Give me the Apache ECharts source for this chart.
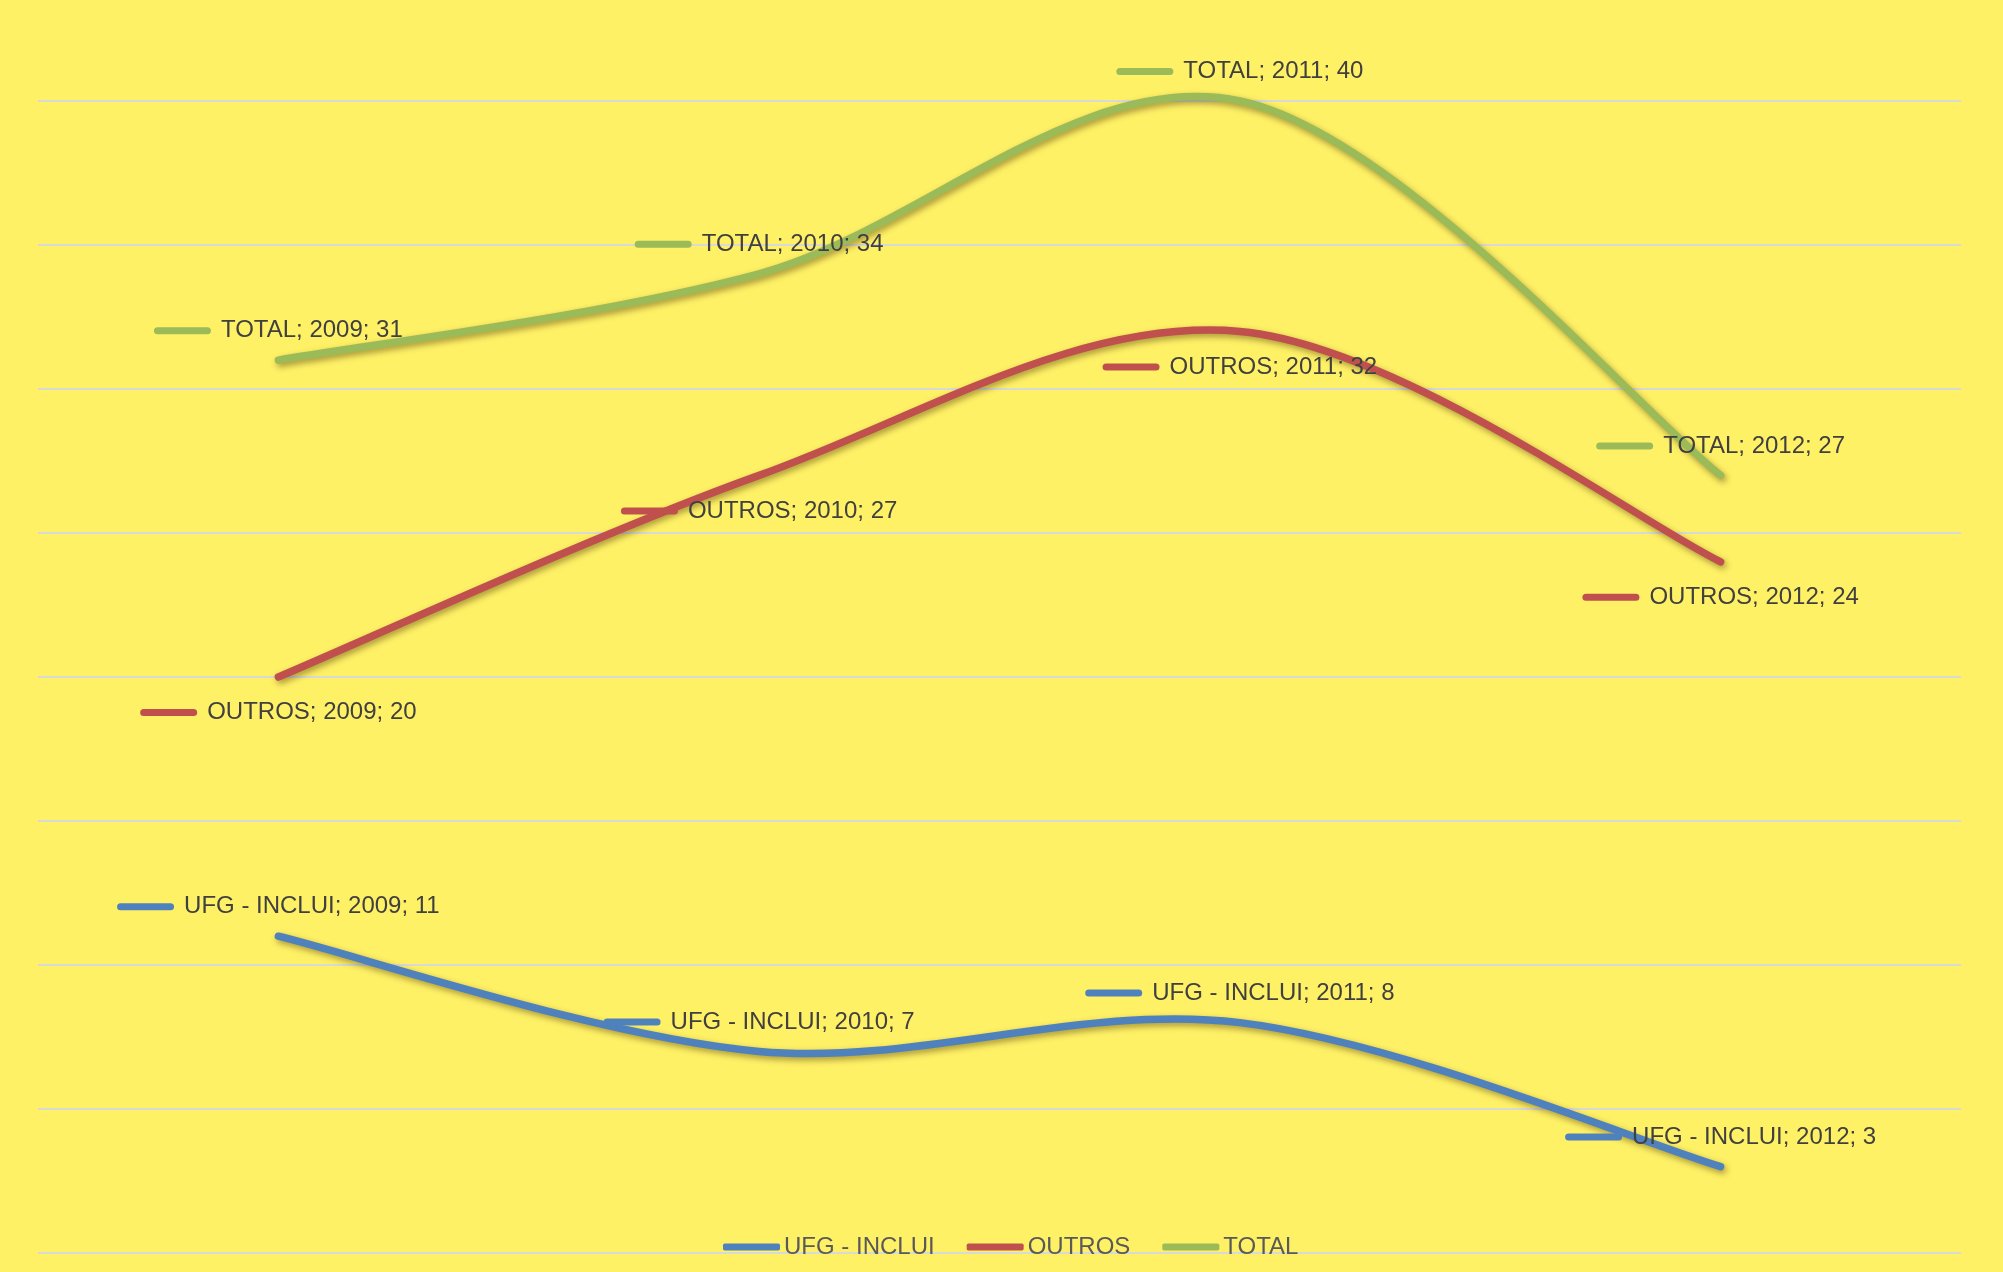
<!DOCTYPE html>
<html><head><meta charset="utf-8">
<script src="https://cdn.jsdelivr.net/npm/echarts@6/dist/echarts.min.js"></script>
<style>html,body{margin:0;padding:0;background:#FFF166;}#c{width:2003px;height:1272px;}</style>
</head><body><div id="c"></div>
<script>
const categories = ['2009', '2010', '2011', '2012'];
const seriesNames = ['UFG - INCLUI', 'OUTROS', 'TOTAL'];
const ufgValues = [11, 7, 8, 3];
const outrosValues = [20, 27, 32, 24];
const totalValues = [31, 34, 40, 27];
const colors = ['#4F81BD', '#C0504D', '#9BBB59'];
const labelPositions = ['top', 'bottom', 'top'];

const chart = echarts.init(document.getElementById('c'));
const valueSets = [ufgValues, outrosValues, totalValues];

// Label-carrying series (line itself invisible)
function makeLabelSeries(i) {
  const name = seriesNames[i];
  const pos = labelPositions[i];
  return {
    name: name,
    type: 'line',
    data: valueSets[i],
    smooth: false,
    symbol: 'circle',
    symbolSize: 1,
    showSymbol: true,
    itemStyle: { color: 'rgba(0,0,0,0)', borderWidth: 0 },
    lineStyle: { width: 0, opacity: 0 },
    label: {
      show: true,
      position: pos,
      distance: pos === 'top' ? 15 : 21,
      formatter: function (p) { return '{k|}{t|' + name + '; ' + p.name + '; ' + p.value + '}'; },
      rich: {
        k: { width: 57, height: 7, backgroundColor: colors[i], borderRadius: 3.5 },
        t: { fontSize: 24, fontFamily: 'Liberation Sans, Arial, sans-serif', color: '#404040', padding: [0, 0, 0, 10], lineHeight: 28 }
      }
    },
    emphasis: { disabled: true },
    z: 6
  };
}

// Smoothed curve (Catmull-Rom style bezier through the axis coordinates)
function makeCurveSeries(i) {
  const vals = valueSets[i];
  return {
    name: seriesNames[i],
    type: 'custom',
    clip: false,
    data: vals.map((v, j) => [j, v]),
    encode: { x: 0, y: 1 },
    itemStyle: { color: colors[i] },
    renderItem: function (params, api) {
      if (params.dataIndex !== 0) return null;
      const n = vals.length;
      const pts = vals.map((v, k) => api.coord([k, v]));
      const P = (k) => pts[Math.max(0, Math.min(n - 1, k))];
      let d = 'M' + pts[0][0] + ' ' + pts[0][1];
      for (let j = 0; j < n - 1; j++) {
        const p0 = P(j - 1), p1 = P(j), p2 = P(j + 1), p3 = P(j + 2);
        const c1x = p1[0] + (p2[0] - p0[0]) / 6, c1y = p1[1] + (p2[1] - p0[1]) / 6;
        const c2x = p2[0] - (p3[0] - p1[0]) / 6, c2y = p2[1] - (p3[1] - p1[1]) / 6;
        d += ' C' + c1x + ' ' + c1y + ' ' + c2x + ' ' + c2y + ' ' + p2[0] + ' ' + p2[1];
      }
      return {
        type: 'path',
        shape: { pathData: d },
        style: {
          fill: null, stroke: colors[i], lineWidth: 7.5, lineCap: 'round', lineJoin: 'round',
          shadowColor: 'rgba(60,40,0,0.45)', shadowBlur: 6, shadowOffsetX: 2, shadowOffsetY: 3
        }
      };
    },
    emphasis: { disabled: true },
    silent: true,
    z: 3
  };
}

chart.setOption({
  backgroundColor: '#FFF166',
  animation: false,
  grid: { left: 38, right: 42, top: 101, bottom: 19, containLabel: false },
  legend: {
    left: 718, top: 1230,
    itemWidth: 57, itemHeight: 7, itemGap: 32,
    icon: 'roundRect',
    textStyle: { fontSize: 24, fontFamily: 'Liberation Sans, Arial, sans-serif', color: '#595959', padding: [0, 0, 0, -1] },
    data: seriesNames.map((n, i) => ({ name: n, icon: 'roundRect', itemStyle: { color: colors[i], opacity: 1 } }))
  },
  xAxis: {
    type: 'category', data: categories, boundaryGap: true,
    axisLine: { show: false }, axisTick: { show: false }, axisLabel: { show: false }
  },
  yAxis: {
    type: 'value', min: 0, max: 40, interval: 5,
    axisLine: { show: false }, axisTick: { show: false }, axisLabel: { show: false },
    splitLine: { show: true, lineStyle: { color: '#D9D9D9', width: 2 } }
  },
  series: [0, 1, 2].map(makeCurveSeries).concat([0, 1, 2].map(makeLabelSeries))
});
</script></body></html>
